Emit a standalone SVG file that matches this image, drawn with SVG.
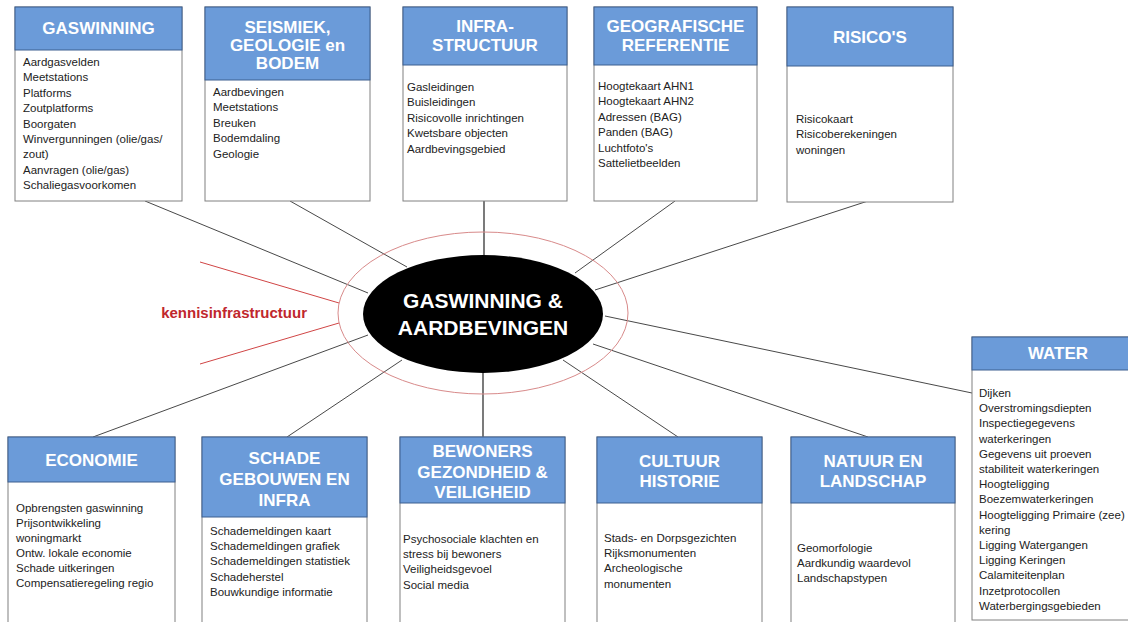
<svg xmlns="http://www.w3.org/2000/svg" width="1128" height="622" viewBox="0 0 1128 622">
<style>
.body{fill:#ffffff;stroke:#808080;stroke-width:1}
.head{fill:#6b9bd9;stroke:#3d5f8f;stroke-width:1}
.ht{font-family:"Liberation Sans",Arial,sans-serif;font-weight:bold;font-size:17px;fill:#ffffff;text-anchor:middle}
.bt{font-family:"Liberation Sans",Arial,sans-serif;font-size:11.5px;fill:#222222}
.con line{stroke:#333333;stroke-width:0.9}
.red line{stroke:#d04545;stroke-width:1}
</style>
<rect width="1128" height="622" fill="#ffffff"/>
<g id="connectors" class="con">
<line x1="145" y1="201" x2="368" y2="293"/>
<line x1="290" y1="201" x2="407" y2="267"/>
<line x1="484" y1="201" x2="484" y2="256" style="stroke-width:1.3"/>
<line x1="675" y1="201" x2="575" y2="273"/>
<line x1="868" y1="201" x2="595" y2="290"/>
<line x1="605" y1="316" x2="972" y2="393"/>
<line x1="593" y1="344" x2="868" y2="437"/>
<line x1="563" y1="360" x2="678" y2="437"/>
<line x1="483" y1="372" x2="483" y2="437" style="stroke-width:1.3"/>
<line x1="402" y1="360" x2="287" y2="437"/>
<line x1="368" y1="335" x2="93" y2="437"/>
</g>
<g id="kennis" class="red">
<line x1="200" y1="262" x2="339" y2="303"/>
<line x1="200" y1="364" x2="339" y2="323"/>
<ellipse cx="483" cy="313" rx="145" ry="81" fill="none" stroke="#d88a8a" stroke-width="1"/>
<text x="307" y="318" font-family="Liberation Sans, Arial, sans-serif" font-weight="bold" font-size="15" fill="#c0272d" text-anchor="end">kennisinfrastructuur</text>
</g>
<g id="center">
<ellipse cx="483" cy="314" rx="120" ry="59" fill="#000000"/>
<text x="483" y="308" font-family="Liberation Sans, Arial, sans-serif" font-weight="bold" font-size="21" fill="#ffffff" text-anchor="middle">GASWINNING &amp;</text>
<text x="483" y="335" font-family="Liberation Sans, Arial, sans-serif" font-weight="bold" font-size="21" fill="#ffffff" text-anchor="middle">AARDBEVINGEN</text>
</g>
<g id="gaswinning">
<rect class="body" x="15" y="7" width="167" height="194"/>
<rect class="head" x="15" y="7" width="167" height="43"/>
<text class="ht" x="98.5" y="34">GASWINNING</text>
<text class="bt" y="66"><tspan x="23">Aardgasvelden</tspan><tspan x="23" dy="15.4">Meetstations</tspan><tspan x="23" dy="15.4">Platforms</tspan><tspan x="23" dy="15.4">Zoutplatforms</tspan><tspan x="23" dy="15.4">Boorgaten</tspan><tspan x="23" dy="15.4">Winvergunningen (olie/gas/</tspan><tspan x="23" dy="15.4">zout)</tspan><tspan x="23" dy="15.4">Aanvragen (olie/gas)</tspan><tspan x="23" dy="15.4">Schaliegasvoorkomen</tspan></text>
</g>
<g id="seismiek">
<rect class="body" x="205" y="7" width="165" height="194"/>
<rect class="head" x="205" y="7" width="165" height="73"/>
<text class="ht" x="287.5" y="33">SEISMIEK,</text>
<text class="ht" x="287.5" y="51">GEOLOGIE en</text>
<text class="ht" x="287.5" y="69">BODEM</text>
<text class="bt" y="96"><tspan x="213">Aardbevingen</tspan><tspan x="213" dy="15.4">Meetstations</tspan><tspan x="213" dy="15.4">Breuken</tspan><tspan x="213" dy="15.4">Bodemdaling</tspan><tspan x="213" dy="15.4">Geologie</tspan></text>
</g>
<g id="infrastructuur">
<rect class="body" x="403" y="7" width="164" height="194"/>
<rect class="head" x="403" y="7" width="164" height="58"/>
<text class="ht" x="485" y="32">INFRA-</text>
<text class="ht" x="485" y="51">STRUCTUUR</text>
<text class="bt" y="91"><tspan x="407">Gasleidingen</tspan><tspan x="407" dy="15.4">Buisleidingen</tspan><tspan x="407" dy="15.4">Risicovolle inrichtingen</tspan><tspan x="407" dy="15.4">Kwetsbare objecten</tspan><tspan x="407" dy="15.4">Aardbevingsgebied</tspan></text>
</g>
<g id="geografische">
<rect class="body" x="594" y="7" width="163" height="194"/>
<rect class="head" x="594" y="7" width="163" height="58"/>
<text class="ht" x="675.5" y="32">GEOGRAFISCHE</text>
<text class="ht" x="675.5" y="51">REFERENTIE</text>
<text class="bt" y="90"><tspan x="598">Hoogtekaart AHN1</tspan><tspan x="598" dy="15.4">Hoogtekaart AHN2</tspan><tspan x="598" dy="15.4">Adressen (BAG)</tspan><tspan x="598" dy="15.4">Panden (BAG)</tspan><tspan x="598" dy="15.4">Luchtfoto's</tspan><tspan x="598" dy="15.4">Sattelietbeelden</tspan></text>
</g>
<g id="risicos">
<rect class="body" x="787" y="7" width="166" height="195"/>
<rect class="head" x="787" y="7" width="166" height="59"/>
<text class="ht" x="870" y="43">RISICO'S</text>
<text class="bt" y="123"><tspan x="796">Risicokaart</tspan><tspan x="796" dy="15.4">Risicoberekeningen</tspan><tspan x="796" dy="15.4">woningen</tspan></text>
</g>
<g id="economie">
<rect class="body" x="8" y="437" width="167" height="190"/>
<rect class="head" x="8" y="437" width="167" height="45"/>
<text class="ht" x="91.5" y="466">ECONOMIE</text>
<text class="bt" y="512"><tspan x="16">Opbrengsten gaswinning</tspan><tspan x="16" dy="15">Prijsontwikkeling</tspan><tspan x="16" dy="15">woningmarkt</tspan><tspan x="16" dy="15">Ontw. lokale economie</tspan><tspan x="16" dy="15">Schade uitkeringen</tspan><tspan x="16" dy="15">Compensatieregeling regio</tspan></text>
</g>
<g id="schade">
<rect class="body" x="202" y="437" width="165" height="190"/>
<rect class="head" x="202" y="437" width="165" height="80"/>
<text class="ht" x="284.5" y="464">SCHADE</text>
<text class="ht" x="284.5" y="485">GEBOUWEN EN</text>
<text class="ht" x="284.5" y="506">INFRA</text>
<text class="bt" y="535"><tspan x="210">Schademeldingen kaart</tspan><tspan x="210" dy="15.2">Schademeldingen grafiek</tspan><tspan x="210" dy="15.2">Schademeldingen statistiek</tspan><tspan x="210" dy="15.2">Schadeherstel</tspan><tspan x="210" dy="15.2">Bouwkundige informatie</tspan></text>
</g>
<g id="bewoners">
<rect class="body" x="400" y="437" width="165" height="190"/>
<rect class="head" x="400" y="437" width="165" height="66"/>
<text class="ht" x="482.5" y="457">BEWONERS</text>
<text class="ht" x="482.5" y="478">GEZONDHEID &amp;</text>
<text class="ht" x="482.5" y="498">VEILIGHEID</text>
<text class="bt" y="543"><tspan x="403">Psychosociale klachten en</tspan><tspan x="403" dy="15.2">stress bij bewoners</tspan><tspan x="403" dy="15.2">Veiligheidsgevoel</tspan><tspan x="403" dy="15.2">Social media</tspan></text>
</g>
<g id="cultuur">
<rect class="body" x="597" y="437" width="165" height="190"/>
<rect class="head" x="597" y="437" width="165" height="66"/>
<text class="ht" x="679.5" y="467">CULTUUR</text>
<text class="ht" x="679.5" y="487">HISTORIE</text>
<text class="bt" y="542"><tspan x="604">Stads- en Dorpsgezichten</tspan><tspan x="604" dy="15.2">Rijksmonumenten</tspan><tspan x="604" dy="15.2">Archeologische</tspan><tspan x="604" dy="15.2">monumenten</tspan></text>
</g>
<g id="natuur">
<rect class="body" x="791" y="437" width="164" height="190"/>
<rect class="head" x="791" y="437" width="164" height="66"/>
<text class="ht" x="873" y="467">NATUUR EN</text>
<text class="ht" x="873" y="487">LANDSCHAP</text>
<text class="bt" y="552"><tspan x="797">Geomorfologie</tspan><tspan x="797" dy="15.2">Aardkundig waardevol</tspan><tspan x="797" dy="15.2">Landschapstypen</tspan></text>
</g>
<g id="water">
<rect class="body" x="972" y="337" width="175" height="283"/>
<rect class="head" x="972" y="337" width="175" height="33"/>
<text class="ht" x="1058" y="359">WATER</text>
<text class="bt" y="397"><tspan x="979">Dijken</tspan><tspan x="979" dy="15.2">Overstromingsdiepten</tspan><tspan x="979" dy="15.2">Inspectiegegevens</tspan><tspan x="979" dy="15.2">waterkeringen</tspan><tspan x="979" dy="15.2">Gegevens uit proeven</tspan><tspan x="979" dy="15.2">stabiliteit waterkeringen</tspan><tspan x="979" dy="15.2">Hoogteligging</tspan><tspan x="979" dy="15.2">Boezemwaterkeringen</tspan><tspan x="979" dy="15.2">Hoogteligging Primaire (zee)</tspan><tspan x="979" dy="15.2">kering</tspan><tspan x="979" dy="15.2">Ligging Watergangen</tspan><tspan x="979" dy="15.2">Ligging Keringen</tspan><tspan x="979" dy="15.2">Calamiteitenplan</tspan><tspan x="979" dy="15.2">Inzetprotocollen</tspan><tspan x="979" dy="15.2">Waterbergingsgebieden</tspan></text>
</g>
</svg>
